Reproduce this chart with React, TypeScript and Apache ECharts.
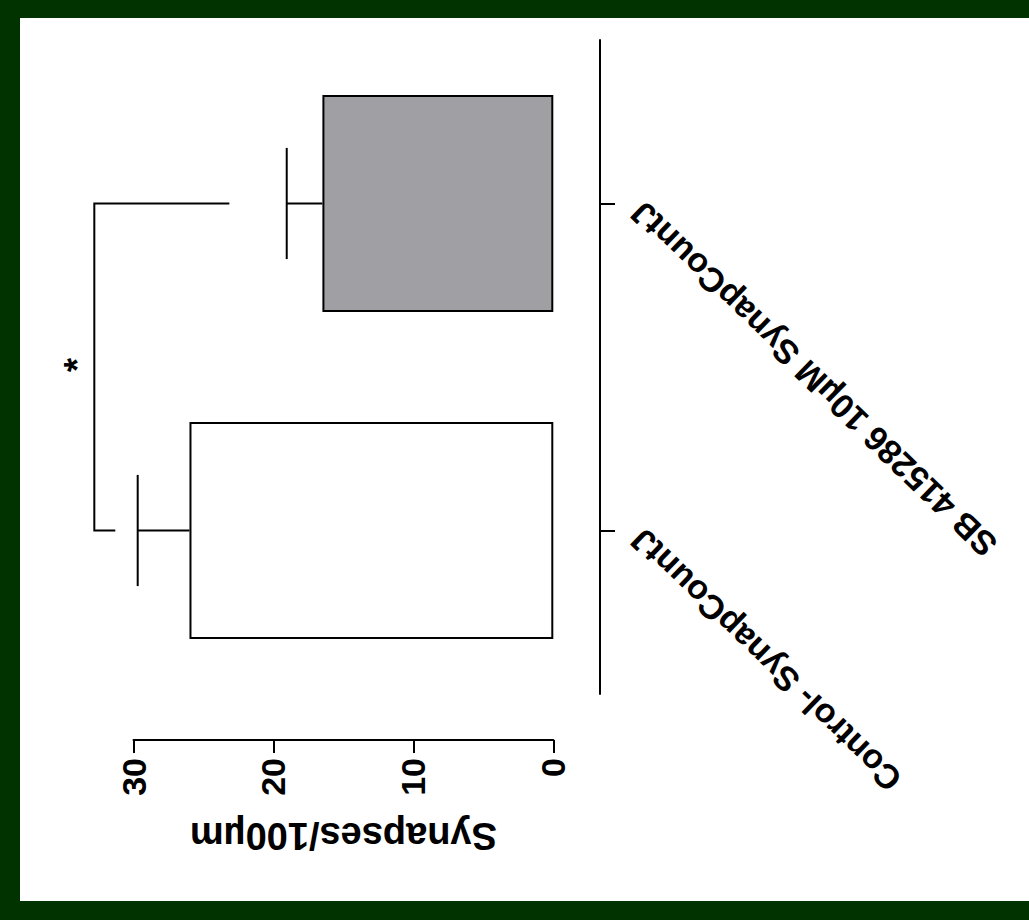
import React, { useEffect, useRef } from "react";
import * as echarts from "echarts";

const categories = ["Control- SynapCountJ", "SB 415286 10µM SynapCountJ"];
const means = [26.0, 16.5];
const upperErrors = [29.7, 19.05];
const barColors = ["#ffffff", "#a0a0a4"];
const bracketArmEnds = [31.3, 23.15];
const bracketSpine = 32.8;
const starValue = 34.0;
const starLabel = "*";
const axisTitle = "Synapses/100µm";
const valueMin = 0;
const valueMax = 30;
const valueStep = 10;

const FONT = '"Liberation Sans", Arial, Helvetica, sans-serif';

export default function App() {
  const ref = useRef<HTMLDivElement>(null);

  useEffect(() => {
    if (!ref.current) return;
    const chart = echarts.init(ref.current, null, { renderer: "svg" });

    const errData = categories.map((_, i) => [i, means[i], upperErrors[i]]);
    const bracketData = [[bracketSpine, bracketArmEnds[0], bracketArmEnds[1], starValue]];

    const option: any = {
      animation: false,
      grid: { left: 133.5, right: 475.7, top: 40, bottom: 226, containLabel: false },
      xAxis: {
        type: "value",
        inverse: true,
        min: valueMin,
        max: valueMax,
        interval: valueStep,
        offset: 46,
        position: "bottom",
        splitLine: { show: false },
        axisLine: { show: true, onZero: false, lineStyle: { color: "#000", width: 2 } },
        axisTick: { show: true, length: 13, lineStyle: { color: "#000", width: 2 } },
        axisLabel: {
          rotate: 90,
          margin: 18,
          color: "#000",
          fontSize: 34,
          fontWeight: "bold",
          fontFamily: FONT,
        },
        name: axisTitle,
        nameLocation: "middle",
        nameRotate: 180,
        nameGap: 96,
        nameTextStyle: {
          color: "#000",
          fontSize: 38,
          fontWeight: "bold",
          fontFamily: FONT,
          align: "center",
          verticalAlign: "middle",
        },
      },
      yAxis: {
        type: "category",
        data: categories,
        position: "right",
        offset: 46.7,
        axisLine: { show: true, onZero: false, lineStyle: { color: "#000", width: 2 } },
        axisTick: { show: true, alignWithLabel: true, length: 15, lineStyle: { color: "#000", width: 2 } },
        axisLabel: {
          rotate: 136,
          margin: 32,
          align: "right",
          verticalAlign: "middle",
          padding: [0, 6, 7, 0],
          color: "#000",
          fontSize: 34,
          fontWeight: "bold",
          fontFamily: FONT,
        },
        splitLine: { show: false },
      },
      series: [
        {
          type: "bar",
          barWidth: "66.4%",
          data: means.map((v, i) => ({
            value: v,
            itemStyle: { color: barColors[i], borderColor: "#000", borderWidth: 2 },
          })),
          z: 2,
        },
        {
          type: "custom",
          z: 3,
          clip: false,
          data: errData,
          renderItem: (params: any, api: any) => {
            const cat = api.value(0);
            const m = api.value(1);
            const u = api.value(2);
            const p0 = api.coord([m, cat]);
            const p1 = api.coord([u, cat]);
            const half = api.size([0, 1])[1] * 0.17;
            const style = { stroke: "#000", lineWidth: 2, fill: null };
            return {
              type: "group",
              children: [
                { type: "line", shape: { x1: p0[0], y1: p0[1], x2: p1[0], y2: p1[1] }, style },
                { type: "line", shape: { x1: p1[0], y1: p1[1] - half, x2: p1[0], y2: p1[1] + half }, style },
              ],
            };
          },
        },
        {
          type: "custom",
          z: 3,
          clip: false,
          data: bracketData,
          renderItem: (params: any, api: any) => {
            const spine = api.value(0);
            const armA = api.value(1);
            const armB = api.value(2);
            const sv = api.value(3);
            const a0 = api.coord([armA, 0]);
            const s0 = api.coord([spine, 0]);
            const s1 = api.coord([spine, 1]);
            const b1 = api.coord([armB, 1]);
            const st0 = api.coord([sv, 0]);
            const st1 = api.coord([sv, 1]);
            return {
              type: "group",
              children: [
                {
                  type: "polyline",
                  shape: { points: [a0, s0, s1, b1] },
                  style: { stroke: "#000", lineWidth: 2, fill: null },
                },
                {
                  type: "text",
                  x: st0[0],
                  y: (st0[1] + st1[1]) / 2 - 2,
                  rotation: Math.PI / 2,
                  style: {
                    text: starLabel,
                    fill: "#000",
                    font: `bold 36px ${FONT}`,
                    align: "center",
                    verticalAlign: "middle",
                  },
                },
              ],
            };
          },
        },
      ],
    };

    chart.setOption(option);
    return () => chart.dispose();
  }, []);

  return (
    <div style={{ position: "absolute", left: 0, top: 0, width: 1029, height: 920, background: "#003300" }}>
      <div style={{ position: "absolute", left: 20, top: 18, width: 1009, height: 883, background: "#ffffff" }} />
      <div ref={ref} style={{ position: "absolute", left: 0, top: 0, width: 1029, height: 920 }} />
    </div>
  );
}
